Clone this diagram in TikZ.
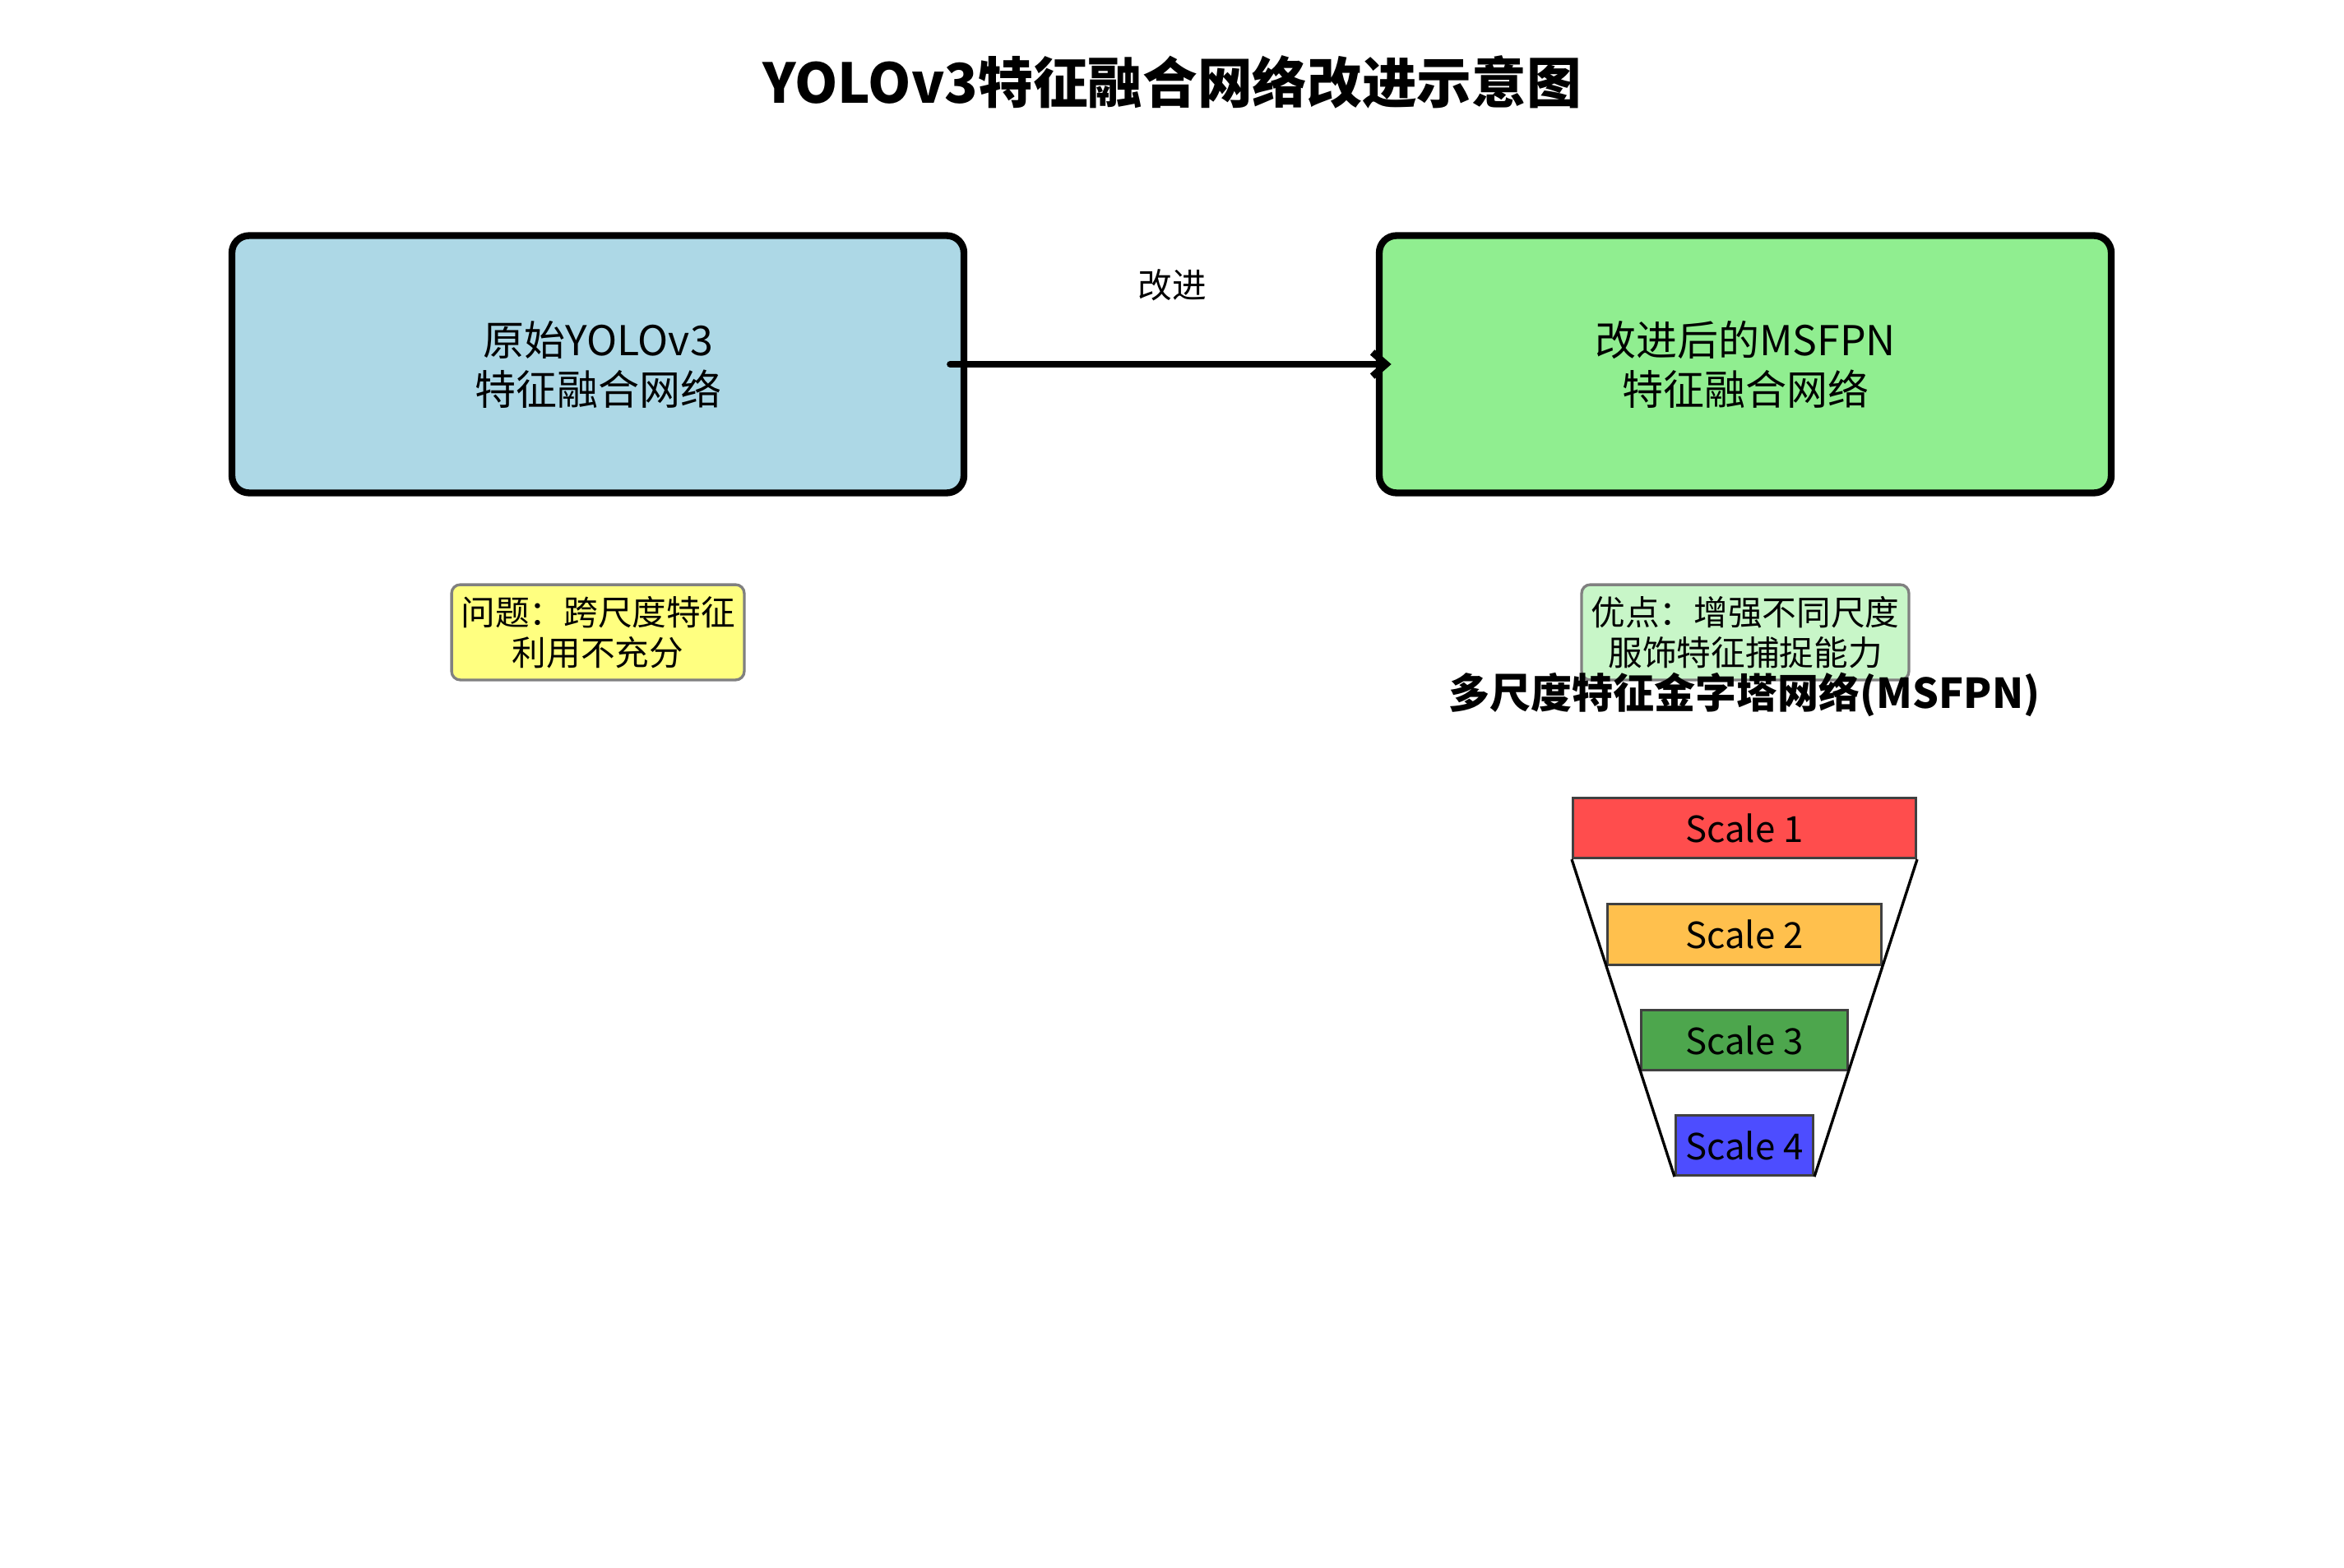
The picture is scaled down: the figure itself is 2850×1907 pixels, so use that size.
\documentclass[tikz,border=0pt]{standalone}
\usepackage{fontspec}
\setmainfont{Noto Sans CJK SC}
\usetikzlibrary{arrows.meta}
\definecolor{boxblue}{HTML}{ADD8E6}
\definecolor{boxgreen}{HTML}{90EE90}
\definecolor{noteyellow}{HTML}{FFFF80}
\definecolor{notegreen}{HTML}{C8F6C8}
\definecolor{noteedge}{HTML}{808080}
\definecolor{sc1}{HTML}{FF4D4D}
\definecolor{sc2}{HTML}{FFC04D}
\definecolor{sc3}{HTML}{4DA64D}
\definecolor{sc4}{HTML}{4D4DFF}
\definecolor{scedge}{HTML}{404040}
\begin{document}
\begin{tikzpicture}[x=0.24pt,y=-0.24pt,
  bigbox/.style={draw=black,line width=2pt,rounded corners=5pt,minimum width=213.6pt,minimum height=75.1pt,align=center,font=\fontsize{12pt}{14.4pt}\selectfont,inner sep=0pt},
  notebox/.style={draw=noteedge,line width=0.8pt,rounded corners=2.5pt,minimum height=27.8pt,align=center,font=\fontsize{10pt}{11.8pt}\selectfont,inner sep=0pt},
  scalebox/.style={draw=scedge,line width=0.7pt,minimum height=17.6pt,inner sep=0pt,font=\fontsize{10.5pt}{12pt}\selectfont},
  lbl/.style={inner sep=0pt}]
\useasboundingbox (0,0) rectangle (2850,1907);
\fill[white] (0,0) rectangle (2850,1907);

\node[lbl,font=\bfseries\fontsize{16pt}{19pt}\selectfont] (title) at (1425,100) {YOLOv3特征融合网络改进示意图};

\node[bigbox,fill=boxblue] (orig) at (727,443) {原始YOLOv3\\特征融合网络};
\node[bigbox,fill=boxgreen] (msfpn) at (2122,443) {改进后的MSFPN\\特征融合网络};

\draw[line width=2pt,line cap=round,-{Straight Barb[length=4pt,width=7pt,line width=2pt]}] ([xshift=-5pt]orig.east) -- ([xshift=4.5pt]msfpn.west);
\node[lbl,font=\fontsize{10pt}{12pt}\selectfont] (improve) at (1425,347) {改进};

\node[notebox,fill=noteyellow,minimum width=85.4pt] (problem) at (727,769) {问题：跨尺度特征\\利用不充分};
\node[notebox,fill=notegreen,minimum width=95.5pt] (merit) at (2122,769) {优点：增强不同尺度\\服饰特征捕捉能力};

\node[lbl,font=\bfseries\fontsize{12pt}{14pt}\selectfont] (subtitle) at (2121,845) {多尺度特征金字塔网络(MSFPN)};

\node[scalebox,fill=sc1,minimum width=100.1pt] (s1) at (2121,1007) {Scale 1};
\node[scalebox,fill=sc2,minimum width=80.0pt] (s2) at (2121,1136.5) {Scale 2};
\node[scalebox,fill=sc3,minimum width=60.2pt] (s3) at (2121,1265) {Scale 3};
\node[scalebox,fill=sc4,minimum width=40.1pt] (s4) at (2121,1393) {Scale 4};

\draw[line width=0.8pt] (s1.south west) -- (s4.south west);
\draw[line width=0.8pt] (s1.south east) -- (s4.south east);
\end{tikzpicture}
\end{document}
